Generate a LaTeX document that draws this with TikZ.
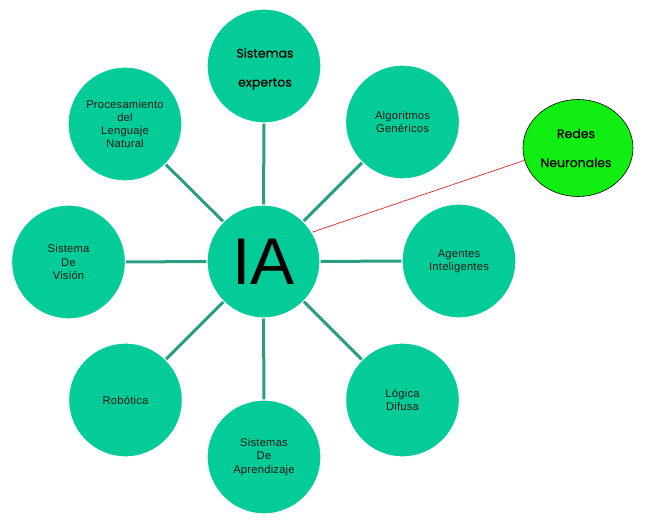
\documentclass[tikz,border=0pt]{standalone}
\usepackage{fontspec}
\setmainfont{Liberation Sans}
\newfontfamily\popfont[FakeBold=0.3]{Poppins}
\newfontfamily\lblfont[LetterSpace=2]{Liberation Sans}
\usetikzlibrary{shapes.geometric}
\definecolor{tealfill}{RGB}{4,204,153}
\definecolor{tealline}{RGB}{42,158,128}
\definecolor{limefill}{RGB}{17,238,17}
\definecolor{redline}{RGB}{220,40,40}
\definecolor{txt}{RGB}{25,25,25}
\begin{document}
\begin{tikzpicture}[x=1pt,y=-1pt,
  outer/.style={circle,fill=tealfill,draw=white,line width=1.2pt,minimum size=114pt,inner sep=0pt,
    align=center,text=txt,font=\lblfont\fontsize{11.2}{13.2}\selectfont},
  hub/.style={circle,fill=tealfill,draw=white,line width=1.2pt,minimum size=113pt,inner sep=0pt,
    font=\fontsize{66}{70}\selectfont},
  spoke/.style={draw=tealline,line width=3pt},
  gothic/.style={align=center,text=black,font=\popfont\fontsize{12.5}{29}\selectfont}]
\useasboundingbox (0,0) rectangle (646,521);
\fill[white] (0,0) rectangle (646,521);
\node[hub] (IA) at (263.5,261.5) {IA};
\node[outer] (SE) at (264,66) {};
\node[gothic] (SEt) at (265,69) {Sistemas\\expertos};
\node[outer] (AG) at (402.5,122) {Algoritmos\\Genéricos};
\node[outer] (AI) at (459,261) {Agentes\\Inteligentes};
\node[outer] (LD) at (402.5,400) {Lógica\\Difusa};
\node[outer] (SA) at (264,457) {Sistemas\\De\\Aprendizaje};
\node[outer] (RO) at (125.5,400) {Robótica};
\node[outer] (SV) at (68.5,262) {Sistema\\De\\Visión};
\node[outer] (PL) at (125,124) {Procesamiento\\del\\Lenguaje\\Natural};
\node[ellipse,fill=limefill,draw=black,line width=0.6pt,minimum width=110pt,minimum height=97pt,inner sep=0pt] (RN) at (578,148) {};
\node[gothic] (RNt) at (576,148) {Redes\\Neuronales};
\foreach \n in {SE,AG,AI,LD,SA,RO,SV,PL}{
  \draw[spoke] (IA) -- (\n);
}
\draw[redline,line width=0.7pt] (IA.31) -- (RN.193);
\end{tikzpicture}
\end{document}
